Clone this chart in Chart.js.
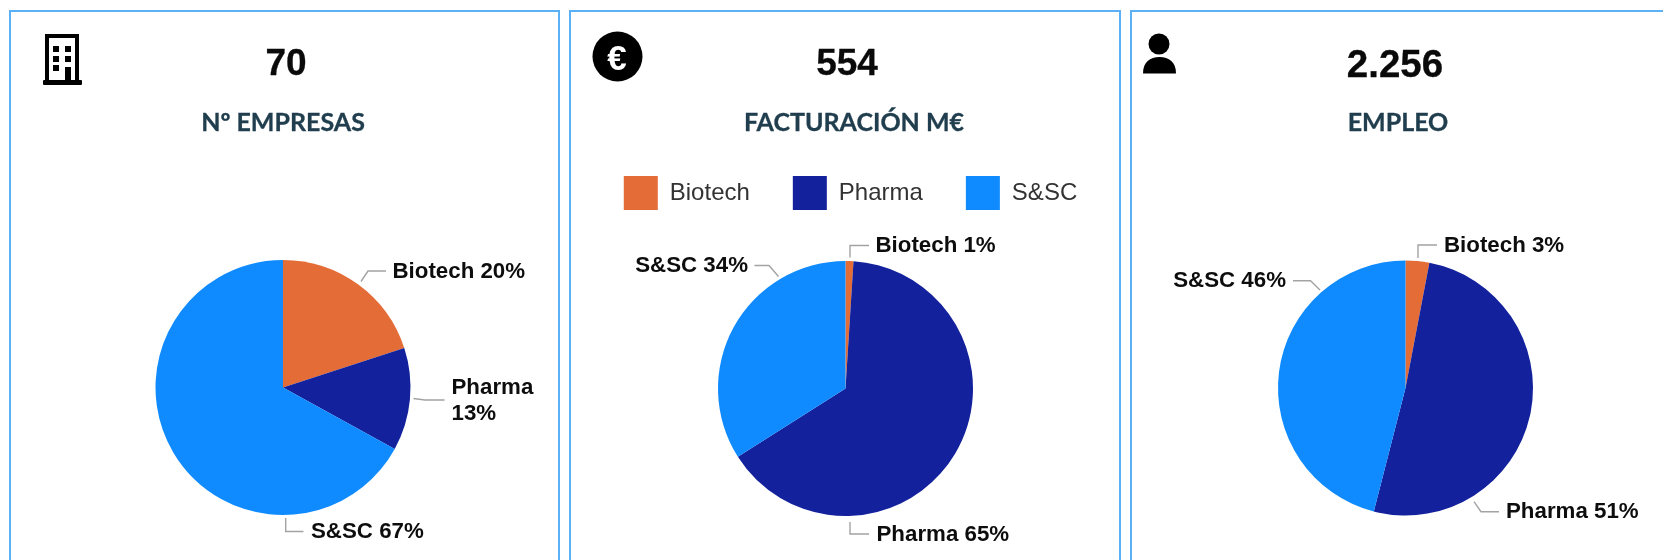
<!DOCTYPE html>
<html lang="es">
<head>
<meta charset="utf-8">
<title>Empresas, facturación y empleo</title>
<script src="https://cdn.jsdelivr.net/npm/chart.js@4/dist/chart.umd.min.js"></script>
<style>
html,body{margin:0;padding:0;background:#fff;overflow:hidden}
#page{position:relative;width:1663px;height:560px;overflow:hidden;background:#fff}
.panel{position:absolute;top:10px;height:570px;box-sizing:border-box;border:2px solid #5CB0F5}
canvas{position:absolute;top:0}
.value,.name{position:absolute;white-space:nowrap;transform:translate(-50%,-50%)}
.value{font:bold 37px "Liberation Sans",Arial,sans-serif;color:#0a0a0a;-webkit-text-stroke:.3px #0a0a0a}
.name{font:bold 25px Lato,sans-serif;color:#203E4E;-webkit-text-stroke:.3px #203E4E}
svg{position:absolute;left:0;top:0}
</style>
</head>
<body>
<div id="page">
  <div class="panel" style="left:9px;width:551px"></div>
  <div class="panel" style="left:569px;width:552px"></div>
  <div class="panel" style="left:1130px;width:560px"></div>

  <canvas id="c1" width="546" height="560" style="left:10px"></canvas>
  <canvas id="c2" width="551" height="560" style="left:570px"></canvas>
  <canvas id="c3" width="515" height="560" style="left:1148px"></canvas>

  <div class="value" style="left:286px;top:63px">70</div>
  <div class="name"  style="left:283px;top:121px">Nº EMPRESAS</div>
  <div class="value" style="left:847px;top:63px">554</div>
  <div class="name"  style="left:854px;top:121px">FACTURACIÓN M€</div>
  <div class="value" style="left:1395px;top:64px;font-size:38.5px">2.256</div>
  <div class="name"  style="left:1398px;top:121px">EMPLEO</div>

  <svg width="1663" height="560" viewBox="0 0 1663 560" aria-hidden="true">
    <!-- building -->
    <path d="M47 83V36H77V83" fill="none" stroke="#000" stroke-width="4"/>
    <rect x="50" y="34" width="24" height="3" fill="#000"/>
    <rect x="43" y="80" width="39" height="5" rx="1" fill="#000"/>
    <g fill="#000">
      <rect x="53" y="46" width="6" height="6"/><rect x="65" y="46" width="6" height="6"/>
      <rect x="53" y="56" width="6" height="6"/><rect x="65" y="56" width="6" height="6"/>
      <rect x="53" y="65" width="6" height="6"/><rect x="65" y="67" width="6" height="14"/>
    </g>
    <!-- euro -->
    <circle cx="617.5" cy="56.5" r="25" fill="#000"/>
    <text x="617" y="70" text-anchor="middle" font-family="Liberation Sans" font-weight="bold" font-size="35" fill="#fff">€</text>
    <!-- person -->
    <circle cx="1159" cy="44" r="10.5" fill="#000"/>
    <path d="M1143 73.5C1143 62 1150 57 1159.5 57C1169 57 1176 62 1176 73.5Z" fill="#000"/>
  </svg>
</div>

<script>
// ---- data ----
const categories   = ['Biotech', 'Pharma', 'S&SC'];
const empresas     = [20, 13, 67];
const facturacion  = [1, 65, 34];
const empleo       = [3, 51, 46];
const sliceColors  = ['#E46C37', '#13229C', '#0F8BFF'];

// ---- call-out layout, offsets from the pie centre ----
const calloutsEmpresas = [
  {start:[78,-106], elbow:[85,-116.5], end:[103,-116.5], text:[109.5,-115.5], align:'left'},
  {start:[130.5,11], elbow:[142,12.5], end:[161.5,12.5], text:[168.5,13.5], align:'left', wrap:true},
  {start:[2.7,130.5], elbow:[2.7,144], end:[20.5,144], text:[28,144], align:'left'}
];
const calloutsFacturacion = [
  {start:[4.5,-131], elbow:[4.5,-143], end:[23.5,-143], text:[30,-143], align:'left'},
  {start:[4.5,133.5], elbow:[4.5,145.5], end:[23.5,145.5], text:[31,146], align:'left'},
  {start:[-67,-112], elbow:[-76.5,-123], end:[-91,-123], text:[-97.5,-123], align:'right'}
];
const calloutsEmpleo = [
  {start:[12.5,-130], elbow:[12.5,-143], end:[31.5,-143], text:[38.5,-142], align:'left'},
  {start:[68.5,113.7], elbow:[75.5,123.7], end:[93.5,123.7], text:[100.5,124], align:'left'},
  {start:[-85.5,-98], elbow:[-95,-107.3], end:[-112.5,-107.3], text:[-119.5,-107], align:'right'}
];

const calloutPlugin = {
  id: 'callouts',
  afterDatasetsDraw(chart, args, opts) {
    const {ctx} = chart;
    const meta = chart.getDatasetMeta(0);
    const cx = meta.data[0].x, cy = meta.data[0].y;
    const values = chart.data.datasets[0].data;
    ctx.save();
    opts.items.forEach((c, i) => {
      ctx.strokeStyle = '#A3A3A3';
      ctx.lineWidth = 1.4;
      ctx.beginPath();
      ctx.moveTo(cx + c.start[0], cy + c.start[1]);
      ctx.lineTo(cx + c.elbow[0], cy + c.elbow[1]);
      ctx.lineTo(cx + c.end[0], cy + c.end[1]);
      ctx.stroke();
      ctx.fillStyle = '#0d0d0d';
      ctx.font = 'bold 22.3px "Liberation Sans", Arial, sans-serif';
      ctx.textAlign = c.align;
      ctx.textBaseline = 'middle';
      const name = chart.data.labels[i], pct = values[i] + '%';
      const x = cx + c.text[0], y = cy + c.text[1];
      if (c.wrap) {
        ctx.fillText(name, x, y - 13);
        ctx.fillText(pct, x, y + 13);
      } else {
        ctx.fillText(name + ' ' + pct, x, y);
      }
    });
    ctx.restore();
  }
};

const nudgeLegend = {
  id: 'nudgeLegend',
  afterLayout(chart, args, opts) {
    if (chart.legend && opts.dx) {
      chart.legend.left += opts.dx;
      chart.legend.right += opts.dx;
    }
  }
};

function pie(id, values, callouts, showLegend, padding) {
  return new Chart(document.getElementById(id), {
    type: 'pie',
    data: {
      labels: categories,
      datasets: [{
        data: values,
        backgroundColor: sliceColors,
        borderWidth: 0,
        radius: 127.5
      }]
    },
    options: {
      responsive: false,
      animation: false,
      devicePixelRatio: 1,
      layout: {padding},
      plugins: {
        tooltip: {enabled: false},
        callouts: {items: callouts},
        nudgeLegend: {dx: showLegend ? 5 : 0},
        legend: {
          display: showLegend,
          position: 'top',
          labels: {
            boxWidth: 34,
            boxHeight: 34,
            padding: 43,
            color: '#333333',
            font: {family: '"Liberation Sans", Arial, sans-serif', size: 24}
          }
        }
      }
    },
    plugins: [calloutPlugin, nudgeLegend]
  });
}

pie('c1', empresas, calloutsEmpresas, false, {top: 260, bottom: 45});
pie('c2', facturacion, calloutsFacturacion, true, {top: 133, bottom: 3});
pie('c3', empleo, calloutsEmpleo, false, {top: 260.5, bottom: 44.5});
</script>
</body>
</html>
